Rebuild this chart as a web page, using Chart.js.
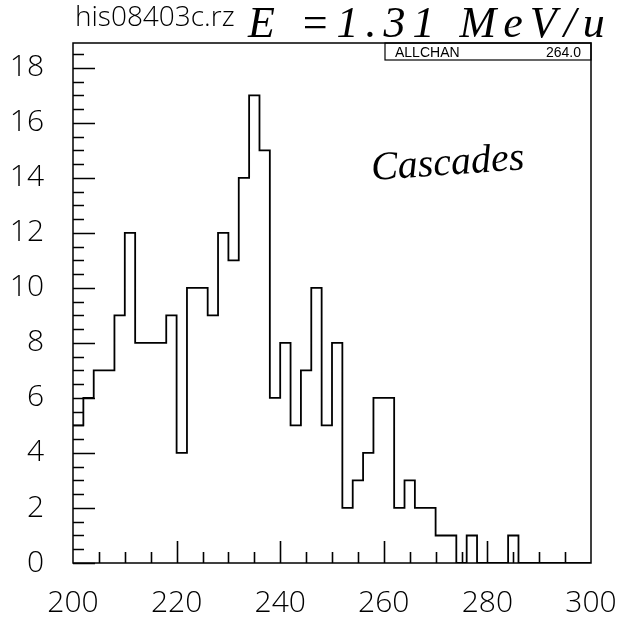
<!DOCTYPE html>
<html>
<head>
<meta charset="utf-8">
<title>his08403c.rz</title>
<script src="https://cdn.jsdelivr.net/npm/chart.js@4.4.1/dist/chart.umd.min.js"></script>
<style>
  html, body { margin: 0; padding: 0; background: #fff; }
  #wrap { width: 623px; height: 623px; position: relative; }
</style>
</head>
<body>
<div id="wrap"><canvas id="histChart" width="623" height="623"></canvas></div>
<script>
// Histogram contents, 2-unit bins from 200 to 300
const binLow = 200;
const binWidth = 2;
const counts = [
  5, 6, 7, 7, 9, 12, 8, 8, 8, 9,
  4, 10, 10, 9, 12, 11, 14, 17, 15, 6,
  8, 5, 7, 10, 5, 8, 2, 3, 4, 6,
  6, 2, 3, 2, 2, 1, 1, 0, 1, 0,
  0, 0, 1, 0, 0, 0, 0, 0, 0, 0
];
const xTicks = [200, 220, 240, 260, 280, 300];
const yTicks = [0, 2, 4, 6, 8, 10, 12, 14, 16, 18];
const totalEntries = "264.0";

// step outline: one point per lower bin edge, plus the closing edge
const points = counts.map((c, i) => ({ x: binLow + i * binWidth, y: c }));
points.push({ x: binLow + counts.length * binWidth, y: 0 });

const labelFont = { family: "'Open Sans', 'Liberation Sans', sans-serif", size: 30, weight: '300' };

// PAW style frame, inward ticks and the text around the plot
const pawFrame = {
  id: 'pawFrame',
  afterDraw(chart) {
    const { ctx, chartArea: a, scales } = chart;
    const xs = scales.x, ys = scales.y;
    ctx.save();
    ctx.strokeStyle = '#000';
    ctx.lineWidth = 1.5;
    ctx.strokeRect(a.left, a.top, a.right - a.left, a.bottom - a.top);

    ctx.lineWidth = 1.6;
    ctx.beginPath();
    for (let v = 0; v < ys.max; v += 0.5) {
      const y = Math.round(ys.getPixelForValue(v)) + 0.5;
      const len = v % 2 === 0 ? 22 : 11;
      ctx.moveTo(a.left, y);
      ctx.lineTo(a.left + len, y);
    }
    for (let v = xs.min + 5; v < xs.max; v += 5) {
      const x = Math.round(xs.getPixelForValue(v)) + 0.5;
      const len = v % 20 === 0 ? 22 : 11;
      ctx.moveTo(x, a.bottom);
      ctx.lineTo(x, a.bottom - len);
    }
    ctx.stroke();

    // statistics box
    ctx.lineWidth = 1.2;
    ctx.strokeRect(385, a.top, a.right - 385, 17);
    ctx.fillStyle = '#000';
    ctx.font = "14px 'Liberation Sans', sans-serif";
    ctx.textBaseline = 'alphabetic';
    ctx.textAlign = 'left';
    ctx.fillText('ALLCHAN', 395, a.top + 14);
    ctx.textAlign = 'right';
    ctx.fillText(totalEntries, 581, a.top + 14);

    // file name
    ctx.textAlign = 'left';
    ctx.font = "300 28px 'Open Sans', 'Liberation Sans', sans-serif";
    ctx.fillText('his08403c.rz', 75, 26);

    // handwritten notes
    ctx.font = "italic 44px 'Liberation Serif', serif";
    ctx.letterSpacing = '7px';
    ctx.fillText('E =1.31 MeV/u', 248, 37);
    ctx.letterSpacing = '0px';
    ctx.translate(372, 180);
    ctx.rotate(-0.07);
    ctx.font = "italic 40px 'Liberation Serif', serif";
    ctx.fillText('Cascades', 0, 0);
    ctx.restore();
  }
};

new Chart(document.getElementById('histChart'), {
  type: 'line',
  data: {
    datasets: [{
      data: points,
      stepped: 'before',
      borderColor: '#000',
      borderWidth: 1.8,
      pointRadius: 0,
      fill: false
    }]
  },
  options: {
    responsive: false,
    animation: false,
    layout: { padding: { top: 43, right: 32, left: 0, bottom: 0 } },
    plugins: { legend: { display: false }, tooltip: { enabled: false } },
    scales: {
      x: {
        type: 'linear',
        min: 200,
        max: 300,
        afterBuildTicks: s => { s.ticks = xTicks.map(v => ({ value: v })); },
        afterFit: s => { s.height = 60; s.paddingLeft = 0; s.paddingRight = 0; },
        grid: { display: false, drawTicks: false },
        border: { display: false },
        ticks: { color: '#000', font: labelFont, padding: 22, maxRotation: 0 }
      },
      y: {
        type: 'linear',
        min: 0,
        max: 18.9,
        afterBuildTicks: s => { s.ticks = yTicks.map(v => ({ value: v })); },
        afterFit: s => { s.width = 73; s.paddingTop = 0; s.paddingBottom = 0; },
        grid: { display: false, drawTicks: false },
        border: { display: false },
        ticks: { color: '#000', font: labelFont, padding: 29 }
      }
    }
  },
  plugins: [pawFrame]
});
</script>
</body>
</html>
